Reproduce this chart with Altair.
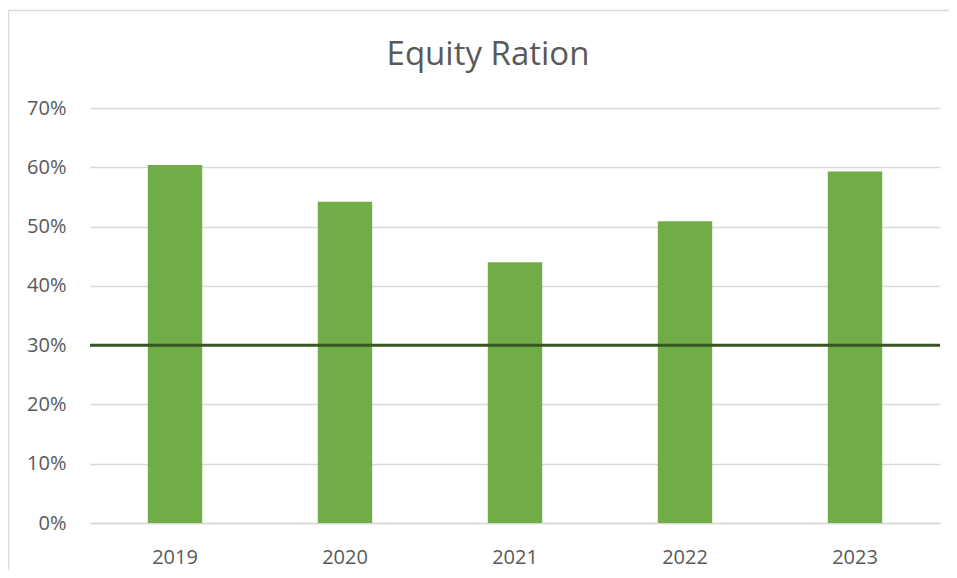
import altair as alt
import pandas as pd

years = ["2019", "2020", "2021", "2022", "2023"]
ratios = [0.604, 0.542, 0.440, 0.509, 0.593]
threshold = [0.30]
title_text = ["Equity Ration"]

df = pd.DataFrame({"year": years, "ratio": ratios})
thr = pd.DataFrame({"t": threshold})
tdf = pd.DataFrame({"title": title_text})

W, H = 850, 415
FONT = "Open Sans"
GREY = "#595959"

x_enc = alt.X("year:N", title=None,
              scale=alt.Scale(paddingInner=0.68, paddingOuter=0.34),
              axis=alt.Axis(labelAngle=0, labelFontSize=20, labelColor=GREY, labelFont=FONT,
                            ticks=False, domain=True, domainColor="#d9d9d9", domainWidth=1.5,
                            labelPadding=24))
y_enc = alt.Y("ratio:Q", title=None,
              scale=alt.Scale(domain=[0, 0.7], nice=False),
              axis=alt.Axis(format=".0%", values=[0, 0.1, 0.2, 0.3, 0.4, 0.5, 0.6, 0.7],
                            labelFontSize=20, labelColor=GREY, labelFont=FONT,
                            ticks=False, domain=False, grid=True, gridColor="#d9d9d9",
                            gridWidth=1.5, labelPadding=24))

border_top = alt.Chart(tdf).mark_rule(stroke="#d9d9d9", strokeWidth=1.5).encode(
    x=alt.value(-81.5), x2=alt.value(W + 9), y=alt.value(-97.5)
)
border_left = alt.Chart(tdf).mark_rule(stroke="#d9d9d9", strokeWidth=1.5).encode(
    x=alt.value(-81.5), y=alt.value(-97.5), y2=alt.value(H + 47)
)

bars = alt.Chart(df).mark_bar(color="#70AD47").encode(x=x_enc, y=y_enc)

rule = alt.Chart(thr).mark_rule(color="#375623", strokeWidth=3).encode(
    y=alt.Y("t:Q")
)

title = alt.Chart(tdf).mark_text(fontSize=33, font=FONT, color=GREY, align="center",
                                 baseline="middle").encode(
    x=alt.value(398), y=alt.value(-53), text="title:N"
)

chart = alt.layer(border_top, border_left, bars, rule, title).properties(
    width=W, height=H,
    autosize=alt.AutoSizeParams(type="none"),
    padding={"left": 82, "top": 100, "right": 9, "bottom": 47},
).configure_view(stroke=None)

chart.save("out.html", embed_options={"renderer": "svg", "actions": False})
